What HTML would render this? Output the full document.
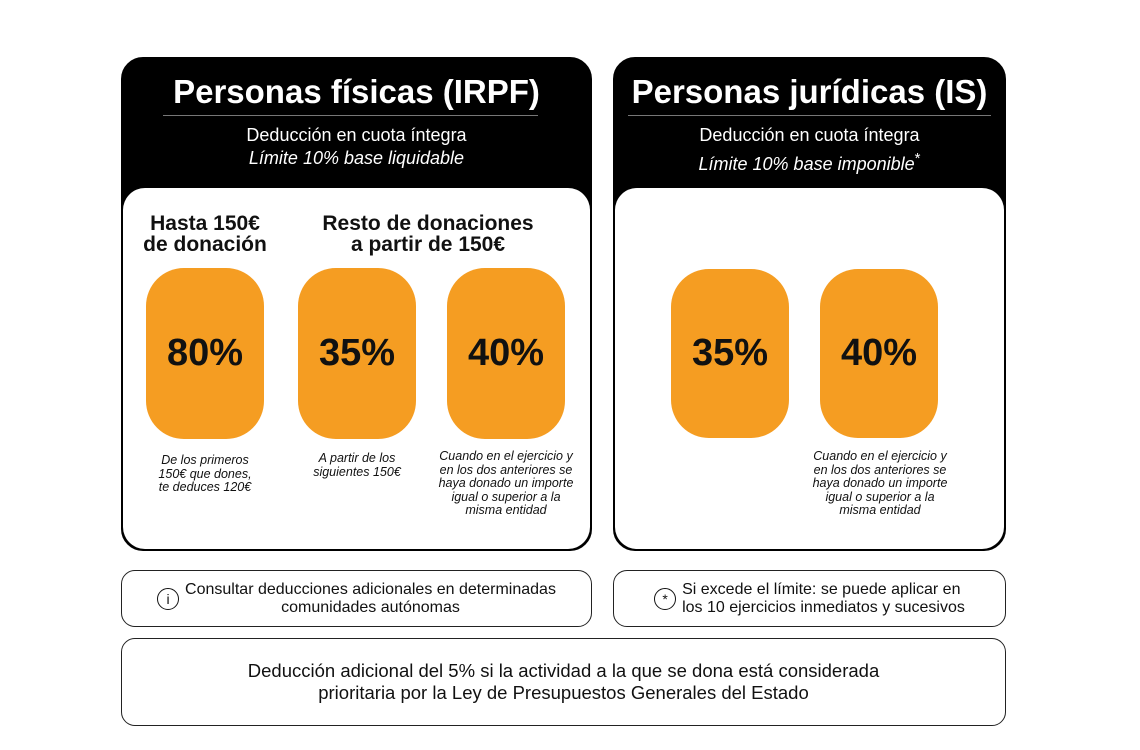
<!DOCTYPE html>
<html><head><meta charset="utf-8"><style>
body{margin:0;width:1140px;height:750px;background:#fff;position:relative;overflow:hidden;font-family:"Liberation Sans","DejaVu Sans",sans-serif;color:#111}
.a{position:absolute}
.card{background:#000;border-radius:22px;border:2px solid #000;box-sizing:border-box}
.inner{background:#fff;border-radius:22px;box-sizing:border-box}
.t{color:#fff;text-align:center;font-weight:bold;font-size:33px}
.s{color:#fff;text-align:center;font-size:18px;line-height:23px}
.pill{background:#f59d22;border-radius:38px;width:118px;height:171px;display:flex;align-items:center;justify-content:center;font-weight:bold;font-size:38px;color:#111}
.h{text-align:center;font-size:21px;line-height:21px;font-weight:bold}
.n{text-align:center;font-style:italic;font-size:12.5px;line-height:13.5px}
.box{border:1.5px solid #222;border-radius:14px;box-sizing:border-box;display:flex;align-items:center;justify-content:center;text-align:center;font-size:16px;line-height:18px}
.ic{width:20px;height:20px;border:1.5px solid #111;border-radius:50%;display:inline-flex;align-items:center;justify-content:center;font-size:14px;margin-right:6px;flex:none}
</style></head><body>
<div class="a card" style="left:121px;top:57px;width:471px;height:494px"></div>
<div class="a t" style="left:121px;top:73px;width:471px">Personas físicas (IRPF)</div>
<div class="a" style="left:163px;top:115px;width:375px;height:1px;background:#777"></div>
<div class="a s" style="left:121px;top:124px;width:471px">Deducción en cuota íntegra<br><i>Límite 10% base liquidable</i></div>
<div class="a inner" style="left:123px;top:188px;width:467px;height:361px"></div>
<div class="a h" style="left:125px;top:213px;width:160px">Hasta 150€<br>de donación</div>
<div class="a h" style="left:292px;top:213px;width:272px">Resto de donaciones<br>a partir de 150€</div>
<div class="a pill" style="left:146px;top:268px">80%</div>
<div class="a pill" style="left:298px;top:268px">35%</div>
<div class="a pill" style="left:447px;top:268px">40%</div>
<div class="a n" style="left:125px;top:454px;width:160px">De los primeros<br>150€ que dones,<br>te deduces 120€</div>
<div class="a n" style="left:277px;top:452px;width:160px">A partir de los<br>siguientes 150€</div>
<div class="a n" style="left:421px;top:450px;width:170px">Cuando en el ejercicio y<br>en los dos anteriores se<br>haya donado un importe<br>igual o superior a la<br>misma entidad</div>

<div class="a card" style="left:613px;top:57px;width:393px;height:494px"></div>
<div class="a t" style="left:613px;top:73px;width:393px">Personas jurídicas (IS)</div>
<div class="a" style="left:628px;top:115px;width:363px;height:1px;background:#777"></div>
<div class="a s" style="left:613px;top:124px;width:393px">Deducción en cuota íntegra<br><i>Límite 10% base imponible</i><sup>*</sup></div>
<div class="a inner" style="left:615px;top:188px;width:389px;height:361px"></div>
<div class="a pill" style="left:671px;top:269px;height:169px">35%</div>
<div class="a pill" style="left:820px;top:269px;height:169px">40%</div>
<div class="a n" style="left:795px;top:450px;width:170px">Cuando en el ejercicio y<br>en los dos anteriores se<br>haya donado un importe<br>igual o superior a la<br>misma entidad</div>

<div class="a box" style="left:121px;top:570px;width:471px;height:57px"><span class="ic">i</span><span>Consultar deducciones adicionales en determinadas<br>comunidades autónomas</span></div>
<div class="a box" style="left:613px;top:570px;width:393px;height:57px"><span class="ic">*</span><span style="text-align:left">Si excede el límite: se puede aplicar en<br>los 10 ejercicios inmediatos y sucesivos</span></div>
<div class="a box" style="left:121px;top:638px;width:885px;height:88px;font-size:18.5px;line-height:22px"><span>Deducción adicional del 5% si la actividad a la que se dona está considerada<br>prioritaria por la Ley de Presupuestos Generales del Estado</span></div>
</body></html>
